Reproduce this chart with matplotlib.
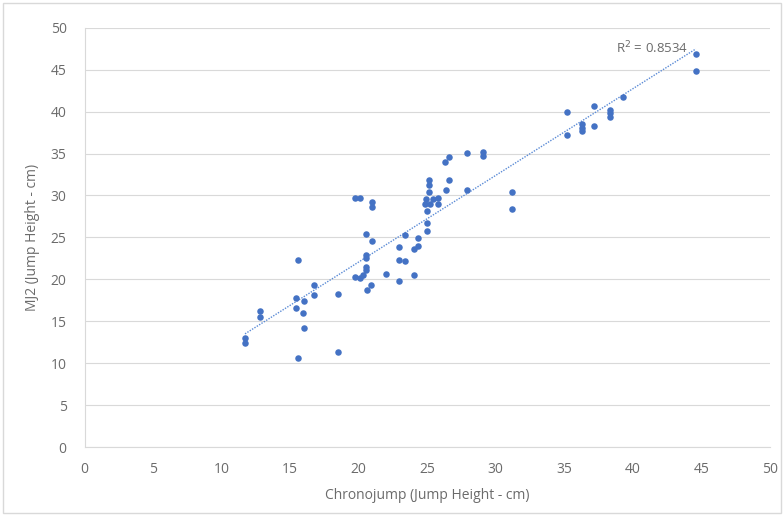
import numpy as np
import matplotlib
matplotlib.use("Agg")
import matplotlib.pyplot as plt
from matplotlib.patches import Rectangle

# Chronojump vs MJ2 jump heights (cm)
chronojump = [
    11.7, 11.7, 12.8, 12.8, 15.4, 15.4, 15.6, 15.6, 15.9, 16.0, 16.0, 16.7, 16.7, 18.5, 18.5,
    19.7, 20.1, 21.0, 21.0, 20.5, 21.0, 20.5, 20.5, 20.5, 20.5, 19.7, 20.1, 20.3, 20.9, 20.6,
    22.0, 22.9, 24.0, 22.9, 23.4, 22.9, 23.4, 24.3, 24.0, 24.3,
    25.0, 25.0, 25.0, 25.1, 25.1, 25.1, 24.9, 25.4, 24.8, 25.2, 25.8, 25.8,
    26.3, 26.6, 27.9, 29.1, 29.1, 26.6, 26.4, 27.9, 31.2, 31.2,
    35.2, 35.2, 36.3, 36.3, 36.3, 37.2, 37.2, 38.3, 38.3, 38.3, 39.3, 44.6, 44.6,
]
mj2 = [
    13.0, 12.4, 16.2, 15.5, 17.8, 16.6, 22.3, 10.6, 16.0, 17.4, 14.2, 19.3, 18.1, 18.3, 11.35,
    29.7, 29.7, 29.2, 28.6, 25.4, 24.6, 22.9, 22.5, 21.5, 21.1, 20.3, 20.2, 20.5, 19.3, 18.7,
    20.6, 19.8, 20.5, 22.3, 22.2, 23.9, 25.3, 24.9, 23.6, 24.0,
    26.7, 25.8, 28.1, 31.8, 31.2, 30.4, 29.6, 29.6, 29.0, 29.0, 29.7, 29.0,
    34.0, 34.6, 35.1, 35.2, 34.7, 31.8, 30.6, 30.7, 30.4, 28.4,
    39.9, 37.2, 38.5, 38.1, 37.7, 40.7, 38.3, 40.2, 39.8, 39.4, 41.8, 46.9, 44.8,
]
r2_label = "R$^2$ = 0.8534"

plt.rcParams["font.family"] = ["Open Sans", "DejaVu Sans"]
grey = "#6b6b6b"
blue = "#4472C4"

fig = plt.figure(figsize=(7.84, 5.15), dpi=100)
ax = fig.add_axes([0.108, 0.132, 0.874, 0.814])

x = np.array(chronojump)
y = np.array(mj2)
ax.scatter(x, y, s=22, color=blue, zorder=3, linewidths=0)

# linear trendline over the data range
slope, intercept = np.polyfit(x, y, 1)
xs = np.array([x.min(), x.max()])
ax.plot(xs, slope * xs + intercept, color="#5b8bd6", lw=1, ls=(0, (1, 1)), zorder=2)
ax.text(44.0, 47.6, r2_label, color=grey, fontsize=9.5, ha="right", va="center")

ax.set_xlim(0, 50)
ax.set_ylim(0, 50)
ax.set_xticks(range(0, 51, 5))
ax.set_yticks(range(0, 51, 5))
ax.grid(axis="y", color="#d9d9d9", lw=0.8)
ax.set_axisbelow(True)
for side in ["top", "right"]:
    ax.spines[side].set_visible(False)
for side in ["left", "bottom"]:
    ax.spines[side].set_color("#d9d9d9")
ax.tick_params(axis="x", length=0, colors=grey, labelsize=10, pad=11)
ax.tick_params(axis="y", length=0, colors=grey, labelsize=10, pad=13)

ax.set_xlabel("Chronojump (Jump Height - cm)", color=grey, fontsize=10, labelpad=8)
ax.set_ylabel("MJ2 (Jump Height - cm)", color=grey, fontsize=10, labelpad=8)

fig.patches.append(Rectangle((0.004, 0.004), 0.992, 0.99, transform=fig.transFigure,
                             fill=False, edgecolor="#d9d9d9", lw=1))

fig.savefig("out.png", dpi=100)
